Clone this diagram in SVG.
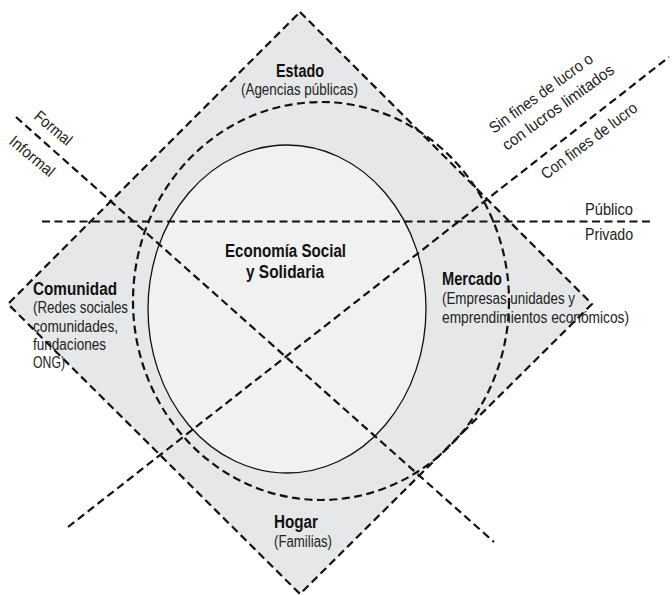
<svg xmlns="http://www.w3.org/2000/svg" width="672" height="595" viewBox="0 0 672 595">
<style>
.dash{fill:none;stroke:#111;stroke-width:2.2;stroke-dasharray:8 4.5}
.t{font-family:"Liberation Sans",Arial,sans-serif;font-size:16px;fill:#222}
.b{font-family:"Liberation Sans",Arial,sans-serif;font-size:17.5px;font-weight:bold;fill:#111}
</style>
<rect width="672" height="595" fill="#fff"/>
<g id="diamond">
<polygon points="300,12 592,304 300,594 8,304" fill="#e6e7e8"/>
</g>
<g id="ess-core">
<ellipse cx="287" cy="309" rx="139" ry="164" fill="#f1f1f1" stroke="#111" stroke-width="1.3"/>
</g>
<g id="connectors">
<polygon class="dash" points="300,12 592,304 300,594 8,304"/>
<ellipse class="dash" cx="321" cy="301" rx="188" ry="199"/>
<line class="dash" x1="42" y1="221.5" x2="652" y2="221.5"/>
<line class="dash" x1="16" y1="117" x2="494" y2="542"/>
<line class="dash" x1="68" y1="527" x2="669" y2="57"/>
</g>
<g id="estado">
<text class="b" x="276" y="77" textLength="48" lengthAdjust="spacingAndGlyphs">Estado</text>
<text class="t" x="241" y="95" textLength="117" lengthAdjust="spacingAndGlyphs">(Agencias públicas)</text>
</g>
<g id="economia">
<text class="b" x="225" y="257" textLength="121" lengthAdjust="spacingAndGlyphs">Economía Social</text>
<text class="b" x="246" y="278" textLength="78" lengthAdjust="spacingAndGlyphs">y Solidaria</text>
</g>
<g id="comunidad">
<text class="b" x="33" y="295" textLength="84" lengthAdjust="spacingAndGlyphs">Comunidad</text>
<text class="t" x="33" y="313" textLength="95" lengthAdjust="spacingAndGlyphs">(Redes sociales</text>
<text class="t" x="33" y="331.5" textLength="85" lengthAdjust="spacingAndGlyphs">comunidades,</text>
<text class="t" x="33" y="350" textLength="73" lengthAdjust="spacingAndGlyphs">fundaciones</text>
<text class="t" x="33" y="368" textLength="32" lengthAdjust="spacingAndGlyphs">ONG)</text>
</g>
<g id="mercado">
<text class="b" x="442" y="285" textLength="60" lengthAdjust="spacingAndGlyphs">Mercado</text>
<text class="t" x="442" y="304" textLength="133" lengthAdjust="spacingAndGlyphs">(Empresas unidades y</text>
<text class="t" x="442" y="323" textLength="187" lengthAdjust="spacingAndGlyphs">emprendimientos económicos)</text>
</g>
<g id="hogar">
<text class="b" x="274" y="528" textLength="44" lengthAdjust="spacingAndGlyphs">Hogar</text>
<text class="t" x="274" y="547" textLength="58" lengthAdjust="spacingAndGlyphs">(Familias)</text>
</g>
<g id="publico-privado">
<text class="t" x="585" y="215" textLength="48" lengthAdjust="spacingAndGlyphs">Público</text>
<text class="t" x="585" y="240" textLength="48" lengthAdjust="spacingAndGlyphs">Privado</text>
</g>
<g id="formal-informal">
<text class="t" transform="translate(33,118) rotate(40)" textLength="44" lengthAdjust="spacingAndGlyphs">Formal</text>
<text class="t" transform="translate(8,143) rotate(40)" textLength="54" lengthAdjust="spacingAndGlyphs">Informal</text>
</g>
<g id="lucro">
<text class="t" transform="translate(494,134) rotate(-36)" textLength="124" lengthAdjust="spacingAndGlyphs">Sin fines de lucro o</text>
<text class="t" transform="translate(507,151) rotate(-36)" textLength="134" lengthAdjust="spacingAndGlyphs">con lucros limitados</text>
<text class="t" transform="translate(546,180) rotate(-37)" textLength="116" lengthAdjust="spacingAndGlyphs">Con fines de lucro</text>
</g>
</svg>
